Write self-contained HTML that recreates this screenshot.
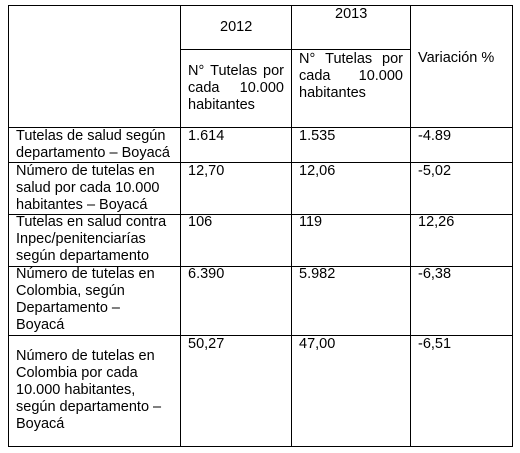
<!DOCTYPE html>
<html><head><meta charset="utf-8"><style>
body{margin:0;background:#fff;width:520px;height:453px;position:relative;overflow:hidden;font-family:"Liberation Sans",Arial,sans-serif;font-size:14.5px;color:#000}
.l{position:absolute;background:#000}
.t{position:absolute;line-height:17px;white-space:nowrap}
.j{position:absolute;line-height:17px;display:flex;justify-content:space-between}
</style></head><body>
<div>
<div class="l" style="left:8px;top:5px;width:505px;height:1px"></div>
<div class="l" style="left:180px;top:49px;width:231px;height:1px"></div>
<div class="l" style="left:8px;top:127px;width:505px;height:1px"></div>
<div class="l" style="left:8px;top:162px;width:505px;height:1px"></div>
<div class="l" style="left:8px;top:214px;width:505px;height:1px"></div>
<div class="l" style="left:8px;top:266px;width:505px;height:1px"></div>
<div class="l" style="left:8px;top:335px;width:505px;height:1px"></div>
<div class="l" style="left:8px;top:446px;width:505px;height:1px"></div>
<div class="l" style="left:8px;top:5px;width:1px;height:442px"></div>
<div class="l" style="left:180px;top:5px;width:1px;height:442px"></div>
<div class="l" style="left:291px;top:5px;width:1px;height:442px"></div>
<div class="l" style="left:410px;top:5px;width:1px;height:442px"></div>
<div class="l" style="left:512px;top:5px;width:1px;height:442px"></div>

<div class="t" style="left:220px;top:19px">2012</div>
<div class="t" style="left:335px;top:6px">2013</div>
<div class="t" style="left:418px;top:50px">Variación %</div>
<div>
<div class="j" style="left:188px;top:63px;width:96px"><span>N°</span><span>Tutelas</span><span>por</span></div>
<div class="j" style="left:188px;top:80px;width:96px"><span>cada</span><span>10.000</span></div>
<div class="t" style="left:188px;top:97px">habitantes</div>
</div>
<div>
<div class="j" style="left:299px;top:51px;width:104px"><span>N°</span><span>Tutelas</span><span>por</span></div>
<div class="j" style="left:299px;top:68px;width:104px"><span>cada</span><span>10.000</span></div>
<div class="t" style="left:299px;top:85px">habitantes</div>
</div>

<div class="t" style="left:16px;top:128px">Tutelas de salud según<br>departamento – Boyacá</div>
<div class="t" style="left:188px;top:128px">1.614</div>
<div class="t" style="left:299px;top:128px">1.535</div>
<div class="t" style="left:418px;top:128px">-4.89</div>

<div class="t" style="left:16px;top:163px">Número de tutelas en<br>salud por cada 10.000<br>habitantes – Boyacá</div>
<div class="t" style="left:188px;top:163px">12,70</div>
<div class="t" style="left:299px;top:163px">12,06</div>
<div class="t" style="left:418px;top:163px">-5,02</div>

<div class="t" style="left:16px;top:214px">Tutelas en salud contra<br>Inpec/penitenciarías<br>según departamento</div>
<div class="t" style="left:188px;top:214px">106</div>
<div class="t" style="left:299px;top:214px">119</div>
<div class="t" style="left:418px;top:214px">12,26</div>

<div class="t" style="left:16px;top:266px">Número de tutelas en<br>Colombia, según<br>Departamento –<br>Boyacá</div>
<div class="t" style="left:188px;top:266px">6.390</div>
<div class="t" style="left:299px;top:266px">5.982</div>
<div class="t" style="left:418px;top:266px">-6,38</div>

<div class="t" style="left:16px;top:348px">Número de tutelas en<br>Colombia por cada<br>10.000 habitantes,<br>según departamento –<br>Boyacá</div>
<div class="t" style="left:188px;top:336px">50,27</div>
<div class="t" style="left:299px;top:336px">47,00</div>
<div class="t" style="left:418px;top:336px">-6,51</div>
</div>
</body></html>
